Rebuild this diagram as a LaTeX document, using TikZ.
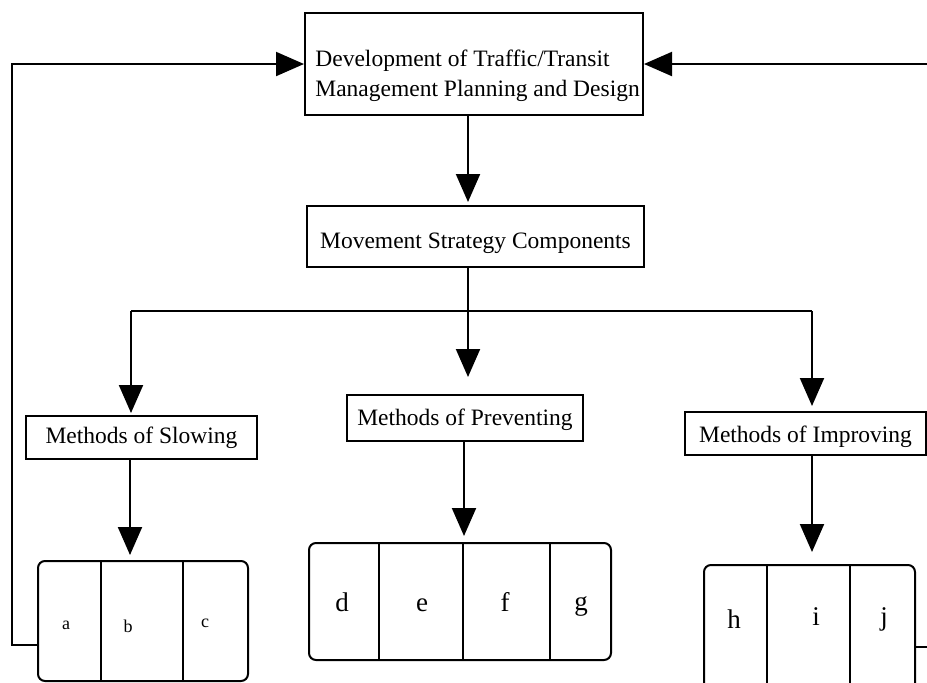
\documentclass[tikz,border=0pt]{standalone}
\usepackage{fontspec}
\setmainfont{Liberation Serif}
\usetikzlibrary{arrows.meta,positioning,calc}

\tikzset{
  box/.style = {draw, line width=1pt, inner sep=0pt, text depth=2.6pt, font=\fontsize{11.75}{15}\selectfont},
  cellbox/.style = {draw, line width=1pt, rounded corners=3.5pt, inner sep=0pt},
  flow/.style = {line width=1pt, -{Triangle[length=14pt,width=12pt]}},
  link/.style = {line width=1pt},
  small cell/.style = {inner sep=0pt, anchor=base, font=\fontsize{9}{11}\selectfont},
  big cell/.style = {inner sep=0pt, anchor=base, font=\fontsize{13.5}{16}\selectfont},
}

\begin{document}
\begin{tikzpicture}[x=0.5pt, y=-0.5pt]
  \useasboundingbox (0,0) rectangle (927,682);

  % planning box and strategy
  \node[box, minimum width=169pt, minimum height=51pt] (plan) at (474,64) {};
  \node[inner sep=0pt, align=left, anchor=west, font=\fontsize{11.75}{15}\selectfont] (plantext) at (315,76)
       {Development of Traffic/Transit\\Management Planning and Design};
  \node[box, text height=14.1pt, minimum width=168.5pt, minimum height=30.5pt] (mov) at (475.5,236.5) {Movement Strategy Components};

  % methods
  \node[box, text height=8.1pt, minimum width=115.5pt, minimum height=21.5pt] (slow) at (141.5,437.5) {Methods of Slowing};
  \node[box, text height=9.6pt, minimum width=118pt, minimum height=23pt] (prev) at (465,418) {Methods of Preventing};
  \node[box, text height=11.1pt, minimum width=120.5pt, minimum height=21.5pt] (impr) at (805.5,433.5) {Methods of Improving};

  % item boxes
  \node[cellbox, minimum width=105pt, minimum height=60pt] (abc) at (143,621) {};
  \node[cellbox, minimum width=151pt, minimum height=58.5pt] (defg) at (460,601.5) {};
  \node[cellbox, minimum width=105.5pt, minimum height=66pt] (hij) at (809.5,631) {};

  \foreach \x in {101,183} \draw[link] (\x,561) -- (\x,681);
  \foreach \x in {379,463,550} \draw[link] (\x,543) -- (\x,660);
  \foreach \x in {767,850} \draw[link] (\x,565) -- (\x,697);

  \node[small cell] (a) at (66,629) {a};
  \node[small cell] (b) at (128,632) {b};
  \node[small cell] (c) at (205,627) {c};
  \node[big cell] (d) at (342,611) {d};
  \node[big cell] (e) at (422,611) {e};
  \node[big cell] (f) at (505,611) {f};
  \node[big cell] (g) at (581,610) {g};
  \node[big cell] (h) at (734,628) {h};
  \node[big cell] (i) at (816,625) {i};
  \node[big cell] (j) at (884,625) {j};

  % connectors
  \coordinate (split) at (468,311);
  \coordinate (lsplit) at (131,311);
  \coordinate (rsplit) at (812,311);
  \coordinate (lback) at (11.5,645);
  \coordinate (rback) at (932,647);

  \draw[flow, shorten >=1.5pt] (plan.south -| split) -- (mov.north -| split);
  \draw[link] (mov.south -| split) -- (split);
  \draw[link] (lsplit) -- (rsplit);
  \draw[flow, shorten >=1pt] (lsplit) -- (slow.north -| lsplit);
  \draw[flow, shorten >=8.5pt] (split) -- (prev.north -| split);
  \draw[flow, shorten >=2.5pt] (rsplit) -- (impr.north -| rsplit);

  \draw[flow, shorten >=2.5pt] (slow.south -| 130,0) -- (abc.north -| 130,0);
  \draw[flow, shorten >=3pt] (prev.south -| 464,0) -- (defg.north -| 464,0);
  \draw[flow, shorten >=6pt] (impr.south -| rsplit) -- (hij.north -| rsplit);

  % feedback loops
  \draw[flow] (abc.west |- lback) -- (lback) -- (lback |- plan.west) -- (plan.west);
  \draw[flow] (hij.east |- rback) -- (rback) -- (rback |- plan.east) -- (plan.east);
\end{tikzpicture}
\end{document}
